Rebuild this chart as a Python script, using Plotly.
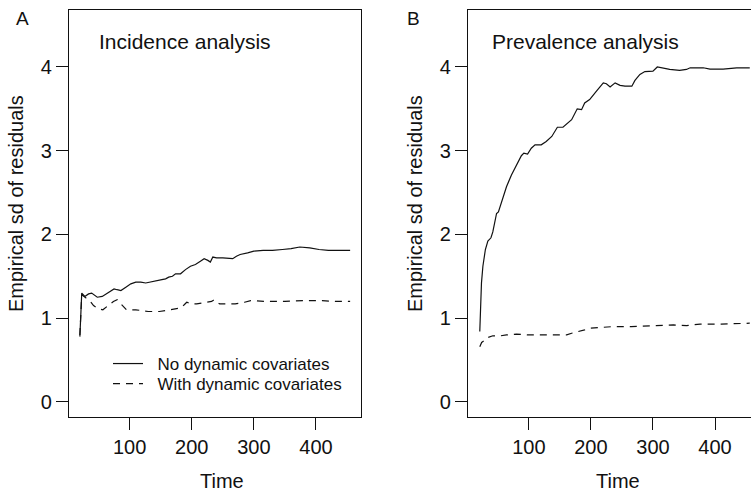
import plotly.graph_objects as go

# ---- data ----
time_a_solid = [20, 23, 28, 34, 39, 43, 48, 56, 64, 69, 75, 80, 86, 94, 102, 110, 118, 126, 134, 142,
                152, 158, 163, 169, 174, 182, 186, 190, 198, 206, 214, 220, 226, 230, 234, 240, 250, 260,
                266, 272, 278, 290, 300, 315, 330, 346, 360, 374, 390, 405, 420, 435, 455]
sd_a_solid = [0.78, 1.30, 1.26, 1.29, 1.30, 1.28, 1.25, 1.26, 1.30, 1.33, 1.35, 1.34, 1.33, 1.37, 1.41,
              1.43, 1.43, 1.42, 1.43, 1.44, 1.46, 1.47, 1.49, 1.50, 1.53, 1.53, 1.56, 1.58, 1.62, 1.64,
              1.68, 1.71, 1.69, 1.67, 1.73, 1.72, 1.72, 1.71, 1.71, 1.74, 1.76, 1.78, 1.80, 1.81, 1.81,
              1.82, 1.83, 1.85, 1.84, 1.82, 1.81, 1.81, 1.81]

time_a_dash = [20, 23, 30, 36, 42, 50, 57, 66, 74, 80, 84, 95, 110, 130, 148, 165, 181, 188, 192, 200,
               208, 216, 224, 232, 236, 245, 256, 270, 285, 295, 320, 350, 380, 410, 430, 455]
sd_a_dash = [0.80, 1.28, 1.24, 1.21, 1.15, 1.11, 1.10, 1.15, 1.20, 1.22, 1.19, 1.10, 1.10, 1.08, 1.08,
             1.10, 1.12, 1.16, 1.19, 1.17, 1.17, 1.18, 1.19, 1.20, 1.22, 1.17, 1.17, 1.17, 1.19, 1.21,
             1.20, 1.20, 1.21, 1.21, 1.20, 1.20]

time_b_solid = [21, 22, 23.7, 26, 30, 34, 39, 42, 48, 51, 56, 64, 72, 80, 88, 92, 98, 104, 110, 120,
                128, 137, 146, 155, 169, 178, 185, 190, 198, 209, 218, 220, 225, 231, 239, 247, 255,
                266, 271, 279, 287, 300, 307, 314, 327, 343, 354, 360, 381, 392, 413, 435, 456]
sd_b_solid = [0.84, 1.18, 1.42, 1.62, 1.82, 1.92, 1.96, 2.03, 2.25, 2.27, 2.39, 2.57, 2.71, 2.83, 2.94,
              2.97, 2.96, 3.03, 3.07, 3.07, 3.11, 3.17, 3.28, 3.28, 3.37, 3.50, 3.49, 3.57, 3.61, 3.71,
              3.80, 3.81, 3.80, 3.76, 3.81, 3.78, 3.77, 3.77, 3.84, 3.91, 3.945, 3.95, 4.00, 3.99, 3.97,
              3.96, 3.97, 3.99, 3.99, 3.975, 3.975, 3.99, 3.99]

time_b_dash = [21, 24, 28, 34, 42, 50, 64, 80, 98, 120, 147, 161, 169, 182, 190, 198, 217, 236, 265,
               290, 333, 354, 376, 410, 456]
sd_b_dash = [0.66, 0.71, 0.73, 0.77, 0.79, 0.785, 0.80, 0.81, 0.80, 0.80, 0.80, 0.80, 0.82, 0.84, 0.86,
             0.88, 0.89, 0.90, 0.90, 0.91, 0.92, 0.91, 0.93, 0.93, 0.94]

x_ticks = [100, 200, 300, 400]
y_ticks = [0, 1, 2, 3, 4]
series_names = ["No dynamic covariates", "With dynamic covariates"]
panel_titles = ["Incidence analysis", "Prevalence analysis"]
panel_letters = ["A", "B"]

FONT = "Liberation Sans, Arial, Helvetica, sans-serif"
INK = "#111111"
W, H = 751, 493
ML, MR, MT, MB = 69, 0, 10, 76
PW = W - ML - MR
PH = H - MT - MB


def px_x(p):
    return (p - ML) / PW


def px_y(p):
    return (H - MB - p) / PH


fig = go.Figure()
line_solid = dict(color=INK, width=1.2)
line_dash = dict(color=INK, width=1.2, dash="7px,6px")

fig.add_trace(go.Scatter(x=time_a_solid, y=sd_a_solid, mode="lines", line=line_solid,
                         name="\u00a0\u00a0" + series_names[0], xaxis="x", yaxis="y", legend="legend"))
fig.add_trace(go.Scatter(x=time_a_dash, y=sd_a_dash, mode="lines", line=line_dash,
                         name="\u00a0\u00a0" + series_names[1], xaxis="x", yaxis="y", legend="legend2"))
fig.add_trace(go.Scatter(x=time_b_solid, y=sd_b_solid, mode="lines", line=line_solid,
                         showlegend=False, xaxis="x2", yaxis="y2"))
fig.add_trace(go.Scatter(x=time_b_dash, y=sd_b_dash, mode="lines", line=line_dash,
                         showlegend=False, xaxis="x2", yaxis="y2"))

axis_common = dict(showgrid=False, zeroline=False, showline=True, linecolor=INK, linewidth=1.3,
                   ticks="outside", ticklen=12, tickwidth=1, tickcolor=INK,
                   tickfont=dict(family=FONT, size=20, color=INK))

legend_common = dict(xanchor="left", yanchor="top", bgcolor="rgba(0,0,0,0)", borderwidth=0,
                     font=dict(family=FONT, size=17, color=INK))

fig.update_layout(
    width=W, height=H,
    margin=dict(l=ML, r=MR, t=MT, b=MB),
    paper_bgcolor="white", plot_bgcolor="white",
    font=dict(family=FONT, color=INK),
    xaxis=dict(domain=[0, px_x(361)], range=[2.5, 472.5], tickvals=x_ticks, mirror=True, anchor="y",
               **axis_common),
    yaxis=dict(domain=[0, 1], range=[-0.18, 4.68], tickvals=y_ticks, mirror=True, anchor="x",
               **axis_common),
    xaxis2=dict(domain=[px_x(468), 1], range=[2.0, 458.0], tickvals=x_ticks, mirror=True, anchor="y2",
                **axis_common),
    yaxis2=dict(domain=[0, 1], range=[-0.18, 4.68], tickvals=y_ticks, mirror=False, anchor="x2",
                **axis_common),
    showlegend=True,
    legend=dict(x=px_x(108), y=px_y(346), **legend_common),
    legend2=dict(x=px_x(108), y=px_y(366), **legend_common),
)

annotations = []
# panel letters
annotations.append(dict(text=panel_letters[0], x=px_x(22.5), y=px_y(18.5), xref="paper", yref="paper",
                        xanchor="center", yanchor="middle", showarrow=False,
                        font=dict(family=FONT, size=19, color=INK)))
annotations.append(dict(text=panel_letters[1], x=px_x(413.5), y=px_y(18.5), xref="paper", yref="paper",
                        xanchor="center", yanchor="middle", showarrow=False,
                        font=dict(family=FONT, size=19, color=INK)))
# panel titles
annotations.append(dict(text=panel_titles[0], x=px_x(97), y=px_y(41), xref="paper", yref="paper",
                        xanchor="left", yanchor="middle", showarrow=False,
                        font=dict(family=FONT, size=21, color=INK)))
annotations.append(dict(text=panel_titles[1], x=px_x(490), y=px_y(41), xref="paper", yref="paper",
                        xanchor="left", yanchor="middle", showarrow=False,
                        font=dict(family=FONT, size=21, color=INK)))
# axis titles
for cx in (222, 618):
    annotations.append(dict(text="Time", x=px_x(cx), y=px_y(481), xref="paper", yref="paper",
                            xanchor="center", yanchor="middle", showarrow=False,
                            font=dict(family=FONT, size=20, color=INK)))
for cx in (16, 415):
    annotations.append(dict(text="Empirical sd of residuals", x=px_x(cx), y=px_y(204), xref="paper",
                            yref="paper", xanchor="center", yanchor="middle", textangle=-90,
                            showarrow=False, font=dict(family=FONT, size=20, color=INK)))
fig.update_layout(annotations=annotations)

fig.write_html("out.html",
               config={"displayModeBar": False},
               post_script="document.body.style.margin='0';document.body.style.overflow='hidden';")
